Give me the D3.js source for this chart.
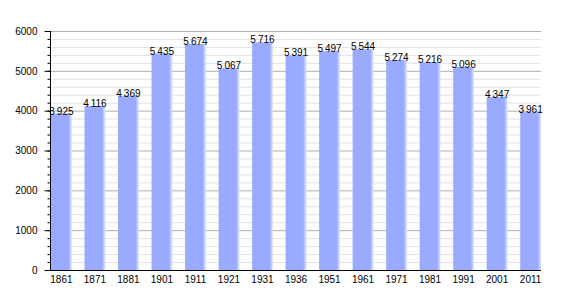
<!DOCTYPE html>
<meta charset="UTF-8">
<style>
  body { margin: 0; background: #fff; }
  text { font-family: "Liberation Sans", Arial, sans-serif; font-size: 10px; fill: #000; }
</style>
<svg width="570" height="300"></svg>
<script src="https://cdn.jsdelivr.net/npm/d3@7"></script>
<script>

var years = ["1861", "1871", "1881", "1901", "1911", "1921", "1931", "1936", "1951", "1961", "1971", "1981", "1991", "2001", "2011"],
    population = [3925, 4116, 4369, 5435, 5674, 5067, 5716, 5391, 5497, 5544, 5274, 5216, 5096, 4347, 3961],
    yTicks = [0, 1000, 2000, 3000, 4000, 5000, 6000];

var svg = d3.select("svg"),
    x0 = 50, x1 = 541, yTop = 31, yBottom = 270;

var x = d3.scaleBand()
    .domain(years)
    .range([x0 + 1, x1])
    .paddingInner(0.38)
    .paddingOuter(0)
    .align(0);

var y = d3.scaleLinear()
    .domain([0, 6000])
    .range([yBottom, yTop]);

var fr = d3.formatLocale({decimal: ",", thousands: "\u2009", grouping: [3], currency: ["", ""]}),
    fmt = fr.format(",d");

// soft right edge on the bars
var grad = svg.append("defs").append("linearGradient").attr("id", "bar");
grad.append("stop").attr("offset", "0").attr("stop-color", "#99aaff");
grad.append("stop").attr("offset", "0.84").attr("stop-color", "#99aaff");
grad.append("stop").attr("offset", "1").attr("stop-color", "#dfe5ff");

// minor grid
svg.append("g").selectAll("line")
    .data(d3.range(200, 6000, 200).filter(d => d % 1000))
    .join("line")
    .attr("x1", x0).attr("x2", x1)
    .attr("y1", d => y(d) + 0.5).attr("y2", d => y(d) + 0.5)
    .attr("stroke", "#e2e2e2");

// major grid
svg.append("g").selectAll("line")
    .data(yTicks.slice(1))
    .join("line")
    .attr("x1", x0).attr("x2", x1)
    .attr("y1", d => y(d) + 0.5).attr("y2", d => y(d) + 0.5)
    .attr("stroke", "#b0b0b0");

svg.append("g").selectAll("rect")
    .data(population)
    .join("rect")
    .attr("x", (d, i) => x(years[i]))
    .attr("width", x.bandwidth())
    .attr("y", d => y(d))
    .attr("height", d => yBottom - y(d))
    .attr("fill", "url(#bar)");

svg.append("g").selectAll("text")
    .data(population)
    .join("text")
    .attr("x", (d, i) => x(years[i]) + x.bandwidth() / 2)
    .attr("y", d => y(d) + 1)
    .attr("text-anchor", "middle")
    .text(d => fmt(d));

// y axis with minor ticks
var yAxis = svg.append("g").attr("transform", "translate(" + (x0 + 0.5) + ",0)");
yAxis.append("g")
    .call(d3.axisLeft(y).tickValues(d3.range(0, 6001, 200)).tickSize(3).tickFormat(""))
    .call(g => g.select(".domain").remove());
yAxis.append("g")
    .call(d3.axisLeft(y).tickValues(yTicks).tickSize(6).tickPadding(7).tickFormat(d3.format("d")))
    .call(g => g.selectAll("text").style("font-size", "10px").style("font-family", null))
    .call(g => g.select(".domain").attr("d", "M0," + yTop + "V" + yBottom));

// x axis
svg.append("g")
    .attr("transform", "translate(0," + (yBottom + 0.5) + ")")
    .call(d3.axisBottom(x).tickSize(0).tickPadding(5))
    .call(g => g.selectAll("text").style("font-size", "10px").style("font-family", null))
    .call(g => g.select(".domain").attr("d", "M" + x0 + ",0H" + x1));

</script>
